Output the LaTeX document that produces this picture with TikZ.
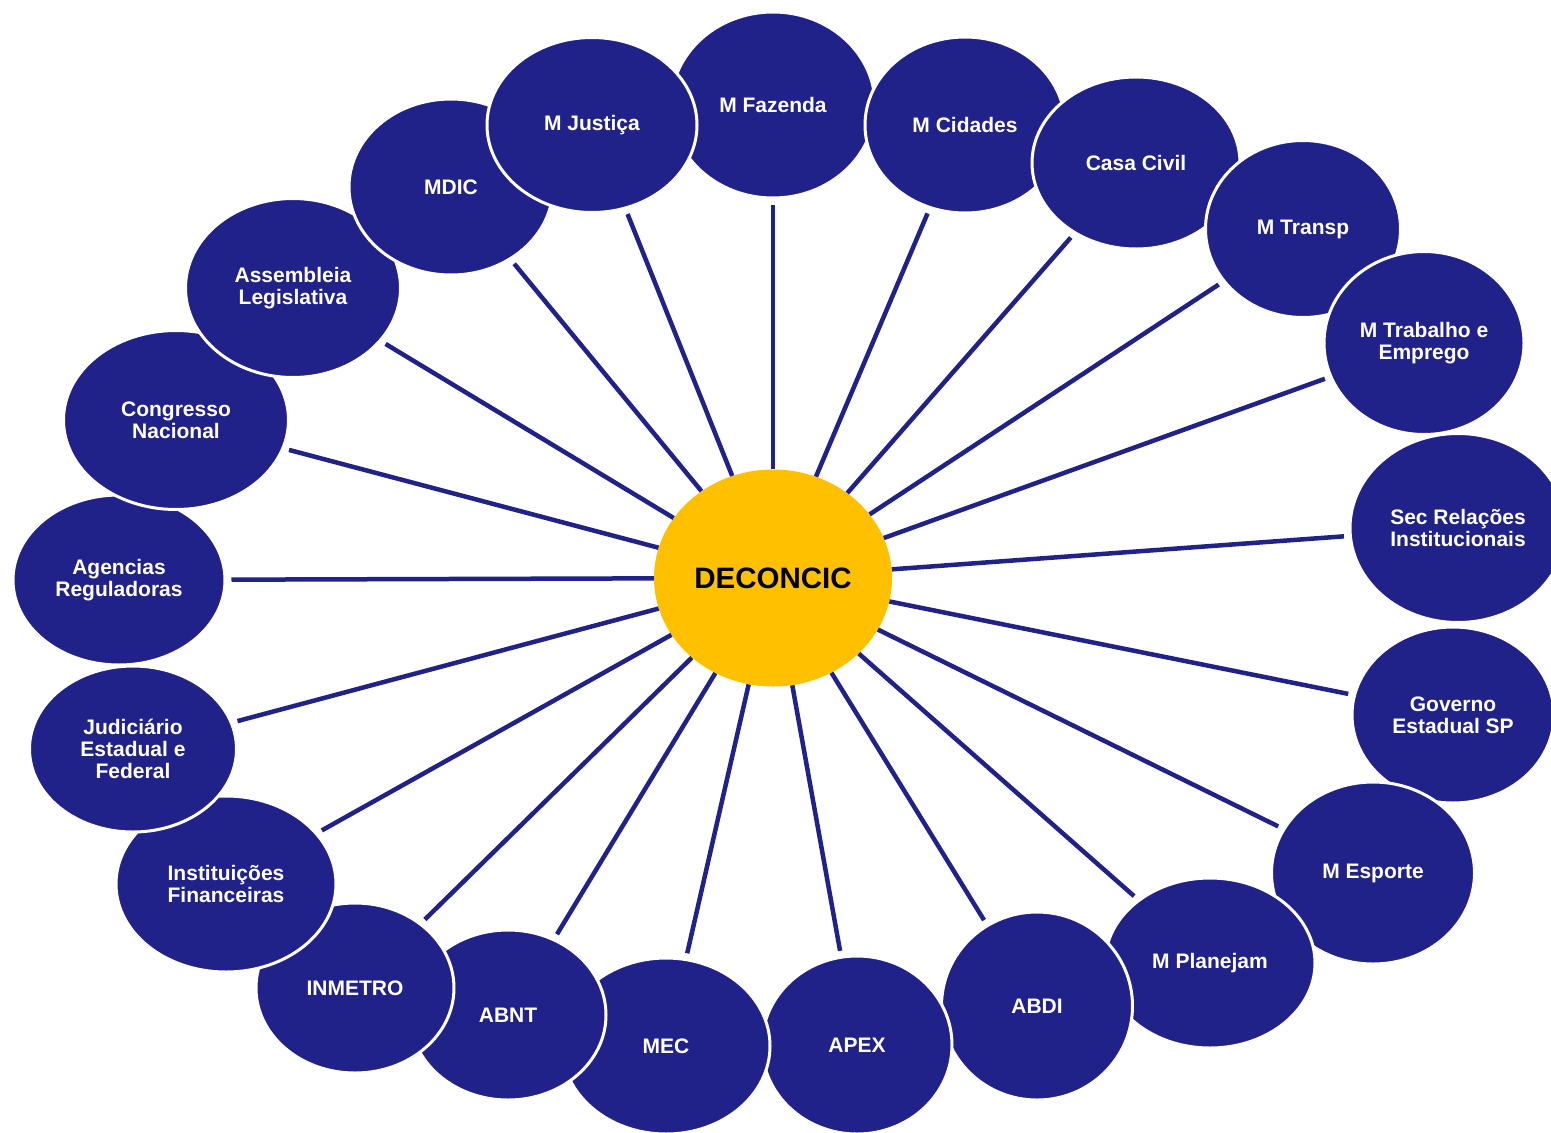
\documentclass[tikz,border=0pt]{standalone}
\usepackage{fontspec}
\setmainfont{Liberation Sans}
\usetikzlibrary{shapes.geometric}
\definecolor{navy}{RGB}{33,33,138}
\definecolor{sun}{RGB}{255,192,0}
\begin{document}
\begin{tikzpicture}[x=1pt,y=-1pt,
  org/.style={ellipse, fill=navy, draw=white, line width=3pt, inner sep=0pt,
    text=white, font=\bfseries\fontsize{21}{22}\selectfont, align=center},
  hub/.style={ellipse, fill=sun, inner sep=0pt, text=black,
    font=\bfseries\fontsize{29.5}{30}\selectfont},
  conn/.style={draw=navy, line width=4.5pt, shorten >=5pt}]
\useasboundingbox (0,0) rectangle (1551,1133);
\node[hub, minimum width=238pt, minimum height=217pt] (c) at (773,578) {DECONCIC};
% outer ellipses, in stacking order
\node[org, minimum width=204pt, minimum height=186pt] (faz) at (773,105) {M Fazenda};
\node[org, minimum width=200pt, minimum height=176pt] (cid) at (965,125) {M Cidades};
\node[org, minimum width=208pt, minimum height=172pt] (casa) at (1136,163) {Casa Civil};
\node[org, minimum width=195pt, minimum height=177pt] (transp) at (1303,229) {M Transp};
\node[org, minimum width=200pt, minimum height=183pt] (trab) at (1424,343) {M Trabalho e\\Emprego};
\node[org, minimum width=216pt, minimum height=189pt] (sec) at (1458,528) {Sec Relações\\Institucionais};
\node[org, minimum width=202pt, minimum height=176pt] (gov) at (1453,715) {Governo\\Estadual SP};
\node[org, minimum width=203pt, minimum height=182pt] (esp) at (1373,873) {M Esporte};
\node[org, minimum width=210pt, minimum height=170pt] (plan) at (1210,963) {M Planejam};
\node[org, minimum width=191pt, minimum height=188pt] (abdi) at (1037,1006) {ABDI};
\node[org, minimum width=190pt, minimum height=178pt] (apex) at (857,1045) {APEX};
\node[org, minimum width=208pt, minimum height=176pt] (mec) at (666,1046) {MEC};
\node[org, minimum width=196pt, minimum height=170pt] (abnt) at (508,1015) {ABNT};
\node[org, minimum width=198pt, minimum height=170pt] (inm) at (355,988) {INMETRO};
\node[org, minimum width=220pt, minimum height=176pt] (inst) at (226,884) {Instituições\\Financeiras};
\node[org, minimum width=207pt, minimum height=166pt] (jud) at (133,749) {Judiciário\\Estadual e\\Federal};
\node[org, minimum width=212pt, minimum height=170pt] (ag) at (119,580) {Agencias\\Reguladoras};
\node[org, minimum width=225pt, minimum height=179pt] (cong) at (176,420) {Congresso\\Nacional};
\node[org, minimum width=215pt, minimum height=179pt] (ass) at (293,288) {Assembleia\\Legislativa};
\node[org, minimum width=204pt, minimum height=176pt] (mdic) at (451,187) {MDIC};
\node[org, minimum width=210pt, minimum height=175pt] (jus) at (592,125) {M Justiça};
% connectors
\foreach \n in {faz,cid,casa,transp,trab,sec,gov,esp,plan,abdi,apex,mec,abnt,inm,inst,jud,ag,cong,ass,mdic,jus}
  \draw[conn] (c) -- (\n);
\end{tikzpicture}
\end{document}
